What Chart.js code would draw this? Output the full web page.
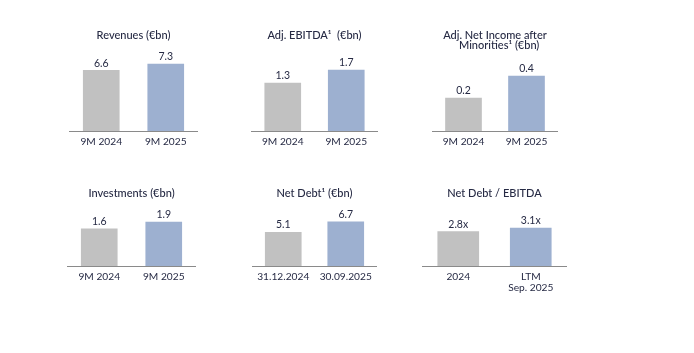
<!DOCTYPE html>
<html>
<head>
<meta charset="utf-8">
<script src="https://cdn.jsdelivr.net/npm/chart.js@4"></script>
<style>
  body { margin: 0; background: #fff; }
  #wrap { position: relative; width: 694px; height: 353px; background: #fff; }
  canvas { position: absolute; }
</style>
</head>
<body>
<div id="wrap">
  <canvas id="c1" width="129" height="121" style="left:69px;top:30px"></canvas>
  <canvas id="c2" width="127" height="121" style="left:251px;top:30px"></canvas>
  <canvas id="c3" width="126" height="121" style="left:432px;top:30px"></canvas>
  <canvas id="c4" width="129" height="108" style="left:67px;top:188px"></canvas>
  <canvas id="c5" width="125" height="108" style="left:252px;top:188px"></canvas>
  <canvas id="c6" width="145" height="108" style="left:422px;top:188px"></canvas>
</div>
<script>
const ninePeriods = ['9M 2024', '9M 2025'];
const revenues = [6.6, 7.3];
const adjEbitda = [1.34, 1.7];
const adjNetIncome = [0.24, 0.4];
const investments = [1.6, 1.9];
const debtDates = ['31.12.2024', '30.09.2025'];
const netDebt = [5.1, 6.7];
const leveragePeriods = ['2024', ['LTM', 'Sep. 2025']];
const leverage = [2.8, 3.1];

const textColor = '#262a44';
const barColors = ['#c1c1c1', '#9db0d0'];
const fontFamily = 'Lato, "Open Sans", sans-serif';

// small inline plugin for the value labels above each bar
const valueLabels = {
    id: 'valueLabels',
    afterDatasetsDraw(chart) {
        const ctx = chart.ctx;
        const suffix = chart.options.plugins.valueLabels.suffix || '';
        const meta = chart.getDatasetMeta(0);
        ctx.save();
        ctx.fillStyle = textColor;
        ctx.font = '10.5px ' + fontFamily;
        ctx.textAlign = 'center';
        ctx.textBaseline = 'bottom';
        meta.data.forEach((bar, i) => {
            const v = chart.data.datasets[0].data[i];
            ctx.fillText(v.toFixed(1) + suffix, bar.x, bar.y - 2);
        });
        ctx.restore();
    }
};

function miniBar(id, title, labels, values, yMax, opts) {
    opts = opts || {};
    new Chart(document.getElementById(id), {
        type: 'bar',
        data: {
            labels: labels,
            datasets: [{
                data: values,
                backgroundColor: barColors,
                barThickness: opts.thickness || 36
            }]
        },
        options: {
            responsive: false,
            animation: false,
            layout: { padding: 0 },
            plugins: {
                legend: { display: false },
                tooltip: { enabled: false },
                title: {
                    display: true,
                    text: title,
                    color: textColor,
                    font: { family: fontFamily, size: 11, weight: '500', lineHeight: 0.92 },
                    padding: { top: 0, bottom: 6 }
                },
                valueLabels: { suffix: opts.suffix || '' }
            },
            scales: {
                x: {
                    grid: { display: false, drawTicks: false },
                    border: { display: true, color: '#8a8a8a', width: 1 },
                    ticks: {
                        color: textColor,
                        padding: 5,
                        font: { family: fontFamily, size: 10.2, lineHeight: 1.08 }
                    },
                    afterFit: s => { s.height = opts.axisHeight || 20; }
                },
                y: { display: false, min: 0, max: yMax }
            }
        },
        plugins: [valueLabels]
    });
}

miniBar('c1', 'Revenues (€bn)', ninePeriods, revenues, 9.25);
miniBar('c2', 'Adj. EBITDA¹  (€bn)', ninePeriods, adjEbitda, 2.37);
miniBar('c3', ['Adj. Net Income after', '   Minorities¹ (€bn)'], ninePeriods, adjNetIncome, 0.544);
miniBar('c4', 'Investments (€bn)', ninePeriods, investments, 2.67, { axisHeight: 30 });
miniBar('c5', 'Net Debt¹ (€bn)', debtDates, netDebt, 9.36, { axisHeight: 30 });
miniBar('c6', 'Net Debt / EBITDA', leveragePeriods, leverage, 5.05, { axisHeight: 30, thickness: 41, suffix: 'x' });
</script>
</body>
</html>
